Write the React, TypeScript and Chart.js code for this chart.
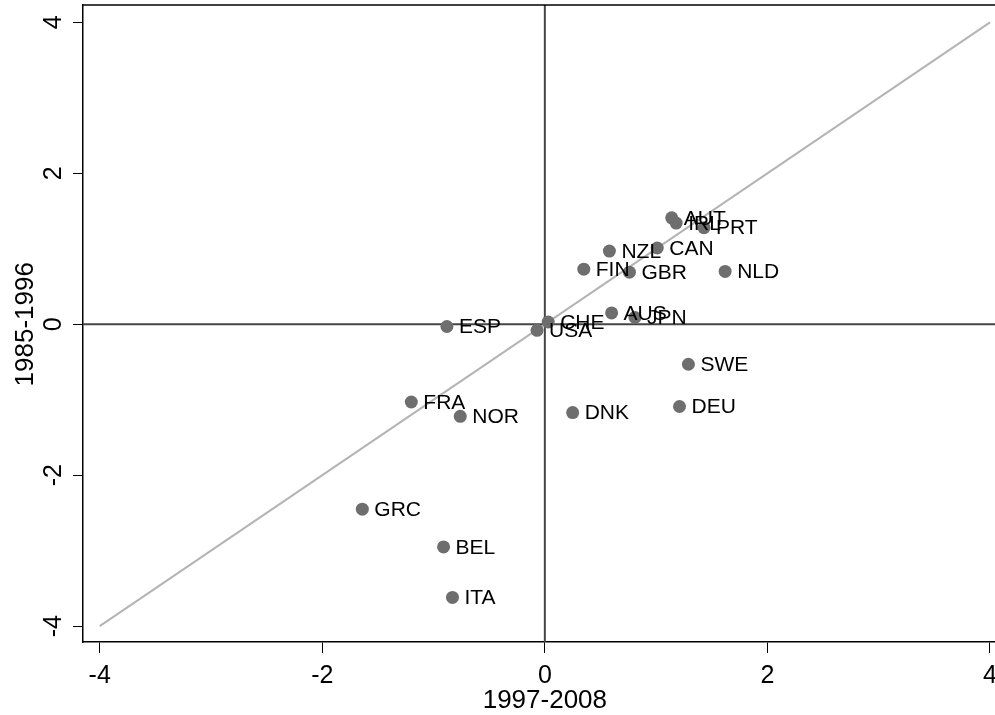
import React, { useEffect, useRef } from "react";
import { Chart, registerables } from "chart.js";

Chart.register(...registerables);

const countries = ["AUT", "IRL", "PRT", "CAN", "NZL", "FIN", "GBR", "NLD", "ESP", "CHE", "USA", "AUS", "JPN", "SWE", "DEU", "DNK", "FRA", "NOR", "GRC", "BEL", "ITA"];
const period1997_2008 = [1.14, 1.18, 1.43, 1.01, 0.58, 0.35, 0.76, 1.62, -0.88, 0.03, -0.07, 0.60, 0.81, 1.29, 1.21, 0.25, -1.20, -0.76, -1.64, -0.91, -0.83];
const period1985_1996 = [1.41, 1.34, 1.28, 1.01, 0.97, 0.73, 0.69, 0.70, -0.03, 0.03, -0.08, 0.15, 0.09, -0.53, -1.09, -1.17, -1.03, -1.22, -2.45, -2.95, -3.62];
const tickValues = [-4, -2, 0, 2, 4];
const tickLabels = ["-4", "-2", "0", "2", "4"];
const xTitle = "1997-2008";
const yTitle = "1985-1996";
const xMin = -4.15, xMax = 4.045, yMin = -4.21, yMax = 4.23;

const FONT = '"Liberation Sans", Arial, Helvetica, sans-serif';

export default function App() {
  const ref = useRef<HTMLCanvasElement>(null);
  useEffect(() => {
    document.body.style.margin = "0";
    const canvas = ref.current!;
    const labelPlugin = {
      id: "labels",
      afterDatasetsDraw(chart: any) {
        const ctx = chart.ctx;
        const xs = chart.scales.x, ys = chart.scales.y;
        ctx.save();
        ctx.fillStyle = "#000";
        ctx.font = `21px ${FONT}`;
        ctx.textAlign = "left";
        ctx.textBaseline = "middle";
        countries.forEach((c, i) => {
          ctx.fillText(c, xs.getPixelForValue(period1997_2008[i]) + 12, ys.getPixelForValue(period1985_1996[i]) + 1);
        });
        ctx.restore();
      },
      afterDraw(chart: any) {
        const ctx = chart.ctx;
        const xs = chart.scales.x, ys = chart.scales.y;
        const a = chart.chartArea;
        ctx.save();
        ctx.strokeStyle = "#000";
        ctx.lineWidth = 1.5;
        ctx.beginPath();
        ctx.moveTo(a.left, a.top);
        ctx.lineTo(a.right, a.top);
        ctx.stroke();
        ctx.fillStyle = "#000";
        ctx.font = `25px ${FONT}`;
        ctx.textAlign = "center";
        ctx.textBaseline = "alphabetic";
        tickValues.forEach((v, i) => {
          ctx.fillText(tickLabels[i], xs.getPixelForValue(v), 683);
        });
        tickValues.forEach((v, i) => {
          ctx.save();
          ctx.translate(a.left - 22, ys.getPixelForValue(v));
          ctx.rotate(-Math.PI / 2);
          ctx.fillText(tickLabels[i], 0, 0);
          ctx.restore();
        });
        ctx.font = `26px ${FONT}`;
        ctx.fillText(xTitle, xs.getPixelForValue(0), 708);
        ctx.save();
        ctx.translate(33, ys.getPixelForValue(0));
        ctx.rotate(-Math.PI / 2);
        ctx.fillText(yTitle, 0, 0);
        ctx.restore();
        ctx.restore();
      },
    };
    const chart = new Chart(canvas, {
      type: "scatter",
      data: {
        datasets: [
          {
            data: countries.map((_, i) => ({ x: period1997_2008[i], y: period1985_1996[i] })),
            backgroundColor: "#6e6e6e",
            borderColor: "#6e6e6e",
            pointRadius: 6.5,
            borderWidth: 0,
            order: 0,
          },
          {
            data: [{ x: -4, y: -4 }, { x: 4, y: 4 }],
            showLine: true,
            borderColor: "#b4b4b4",
            borderWidth: 2,
            pointRadius: 0,
            order: 1,
          },
          {
            data: [{ x: xMin, y: 0 }, { x: xMax, y: 0 }],
            showLine: true,
            borderColor: "#454545",
            borderWidth: 2,
            pointRadius: 0,
            order: 2,
          },
          {
            data: [{ x: 0, y: yMin }, { x: 0, y: yMax }],
            showLine: true,
            borderColor: "#454545",
            borderWidth: 2,
            pointRadius: 0,
            order: 2,
          },
        ],
      },
      options: {
        responsive: false,
        animation: false,
        devicePixelRatio: 1,
        layout: { autoPadding: false, padding: { top: 5, right: 0, left: 0, bottom: 0 } },
        plugins: { legend: { display: false }, tooltip: { enabled: false } },
        scales: {
          x: {
            type: "linear",
            min: xMin,
            max: xMax,
            afterBuildTicks: (s: any) => { s.ticks = tickValues.map((v) => ({ value: v })); },
            afterFit: (s: any) => { s.height = 73; s.paddingLeft = 0; s.paddingRight = 0; },
            ticks: { display: false },
            grid: { display: true, drawOnChartArea: false, drawTicks: true, tickLength: 11, color: "#000", lineWidth: 1 },
            border: { display: true, color: "#000", width: 1.5 },
          },
          y: {
            type: "linear",
            min: yMin,
            max: yMax,
            afterBuildTicks: (s: any) => { s.ticks = tickValues.map((v) => ({ value: v })); },
            afterFit: (s: any) => { s.width = 83; s.paddingTop = 0; s.paddingBottom = 0; },
            ticks: { display: false },
            grid: { display: true, drawOnChartArea: false, drawTicks: true, tickLength: 10, color: "#000", lineWidth: 1 },
            border: { display: true, color: "#000", width: 1.5 },
          },
        },
      },
      plugins: [labelPlugin],
    } as any);
    return () => chart.destroy();
  }, []);
  return (
    <div style={{ width: 995, height: 715, background: "#fff" }}>
      <canvas ref={ref} width={995} height={715} />
    </div>
  );
}
